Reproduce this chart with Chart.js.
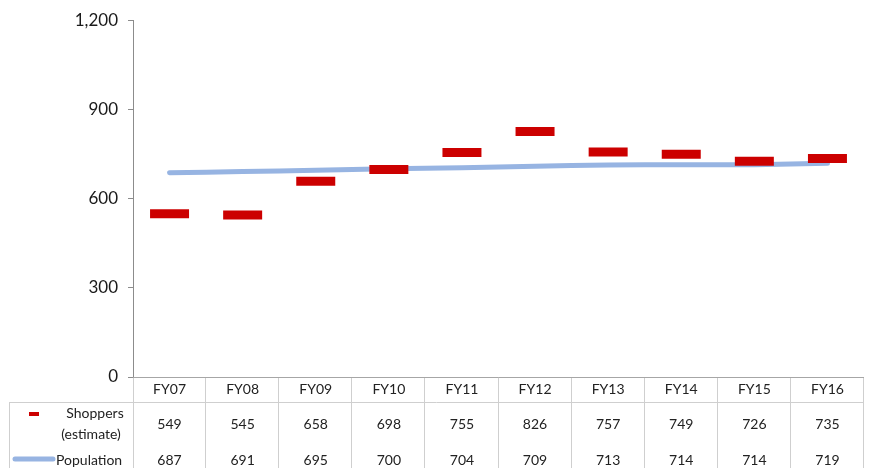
<!DOCTYPE html>
<html>
<head>
<meta charset="utf-8">
<script src="https://cdn.jsdelivr.net/npm/chart.js@4.4.1/dist/chart.umd.min.js"></script>
<style>
  html, body { margin: 0; padding: 0; background: #fff; }
  #wrap { width: 869px; height: 468px; }
</style>
</head>
<body>
<div id="wrap"><canvas id="myChart" width="869" height="468"></canvas></div>
<script>
// datos
const categories = ['FY07', 'FY08', 'FY09', 'FY10', 'FY11', 'FY12', 'FY13', 'FY14', 'FY15', 'FY16'];
const shoppers = [549, 545, 658, 698, 755, 826, 757, 749, 726, 735];
const population = [687, 691, 695, 700, 704, 709, 713, 714, 714, 719];
const yTicks = [0, 300, 600, 900, 1200];

const RED = '#CC0000';
const BLUE = '#97B4E2';
const FONT = 'Lato, "Open Sans", sans-serif';

// tabla de datos debajo del gráfico (como en Excel)
const dataTablePlugin = {
  id: 'dataTable',
  afterDraw(chart) {
    const ctx = chart.ctx;
    const x = chart.scales.x;
    const area = chart.chartArea;
    const top = area.bottom;
    const headBottom = top + 25;
    const bottom = chart.height;
    const left = area.left;
    const right = area.right;
    const legendLeft = 9;
    const colW = (right - left) / categories.length;

    ctx.save();
    ctx.strokeStyle = '#CFCFCF';
    ctx.lineWidth = 1;
    ctx.beginPath();
    // líneas horizontales
    ctx.moveTo(legendLeft, headBottom + 0.5);
    ctx.lineTo(right, headBottom + 0.5);
    // líneas verticales
    for (let i = 1; i <= categories.length; i++) {
      const vx = Math.round(left + i * colW) - 0.5;
      ctx.moveTo(vx, top);
      ctx.lineTo(vx, bottom);
    }
    ctx.moveTo(legendLeft + 0.5, headBottom);
    ctx.lineTo(legendLeft + 0.5, bottom);
    ctx.moveTo(left + 0.5, top);
    ctx.lineTo(left + 0.5, bottom);
    ctx.stroke();

    // eje x
    ctx.strokeStyle = '#A6A6A6';
    ctx.beginPath();
    ctx.moveTo(left, top + 0.5);
    ctx.lineTo(right, top + 0.5);
    ctx.stroke();

    // textos
    ctx.fillStyle = '#222';
    ctx.font = '14px ' + FONT;
    ctx.textAlign = 'center';
    ctx.textBaseline = 'middle';
    categories.forEach((c, i) => {
      const cx = x.getPixelForValue(i);
      ctx.fillText(c, cx, top + 12);
      ctx.fillText(shoppers[i].toLocaleString('en-US'), cx, 424);
      ctx.fillText(population[i].toLocaleString('en-US'), cx, 460);
    });

    // claves de la leyenda
    ctx.fillText('Shoppers', 95, 413);
    ctx.fillText('(estimate)', 91, 434);
    ctx.textAlign = 'left';
    ctx.fillText('Population', 56, 460);

    ctx.fillStyle = RED;
    ctx.fillRect(29, 412, 10, 4);

    ctx.strokeStyle = BLUE;
    ctx.lineWidth = 5;
    ctx.lineCap = 'round';
    ctx.beginPath();
    ctx.moveTo(15, 459);
    ctx.lineTo(53, 459);
    ctx.stroke();
    ctx.restore();
  }
};

new Chart(document.getElementById('myChart'), {
  type: 'line',
  data: {
    labels: categories,
    datasets: [{
      label: 'Shoppers (estimate)',
      data: shoppers,
      showLine: false,
      pointStyle: 'line',
      pointRadius: 19.5,
      pointHoverRadius: 19.5,
      pointBorderWidth: 9,
      pointBorderColor: RED,
      pointBackgroundColor: RED,
      borderColor: RED,
      order: 0
    }, {
      label: 'Population',
      data: population,
      borderColor: BLUE,
      borderWidth: 5,
      borderCapStyle: 'round',
      pointRadius: 0,
      tension: 0.2,
      order: 1
    }]
  },
  plugins: [dataTablePlugin],
  options: {
    responsive: false,
    animation: false,
    layout: { autoPadding: false, padding: { top: 19, right: 5, bottom: 91, left: 0 } },
    plugins: {
      legend: { display: false },
      tooltip: { enabled: false }
    },
    scales: {
      x: {
        display: false,
        offset: true
      },
      y: {
        min: 0,
        max: 1200,
        afterFit: s => { s.width = 133; },
        afterBuildTicks: s => { s.ticks = yTicks.map(v => ({ value: v })); },
        border: { display: true, color: '#8C8C8C', width: 1 },
        grid: {
          display: true,
          drawOnChartArea: false,
          drawTicks: true,
          tickLength: 5,
          color: '#8C8C8C'
        },
        ticks: {
          padding: 10,
          color: '#1a1a1a',
          font: { family: FONT, size: 17 },
          callback: v => v.toLocaleString('en-US')
        }
      }
    }
  }
});
</script>
</body>
</html>
